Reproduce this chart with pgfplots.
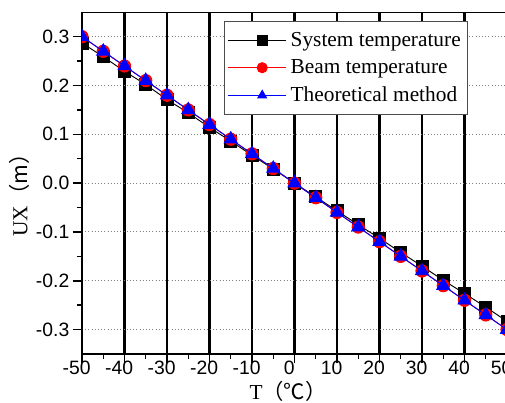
\documentclass[border=0pt]{standalone}
\usepackage{fontspec}
\setmainfont{Liberation Serif}
\newfontfamily\arial{Liberation Sans}
\newfontfamily\cjk{Noto Sans CJK SC}
\usepackage{pgfplots}
\pgfplotsset{compat=1.18}

% values, T in degrees C, UX in m
\pgfplotstableread{
T    sys     beam    theo
-50  0.287   0.300   0.300
-45  0.259   0.270   0.270
-40  0.229   0.240   0.240
-35  0.202   0.210   0.210
-30  0.171   0.180   0.180
-25  0.144   0.150   0.150
-20  0.114   0.120   0.120
-15  0.086   0.090   0.090
-10  0.057   0.060   0.060
-5   0.029   0.030   0.030
0    0.000   0.000   0.000
5   -0.028  -0.030  -0.030
10  -0.057  -0.060  -0.060
15  -0.085  -0.090  -0.090
20  -0.113  -0.120  -0.120
25  -0.142  -0.150  -0.150
30  -0.170  -0.180  -0.180
35  -0.199  -0.210  -0.210
40  -0.226  -0.240  -0.240
45  -0.254  -0.270  -0.270
50  -0.283  -0.300  -0.300
}\datatable

\begin{document}
\begin{tikzpicture}
\begin{axis}[
    scale only axis,
    width=318.75pt, height=256.3pt,
    xmin=-50, xmax=50, ymin=-0.35, ymax=0.35,
    xtick={-50,-40,...,50},
    ytick={-0.3,-0.2,...,0.3},
    minor x tick num=1, minor y tick num=1,
    tick pos=left, tick align=outside,
    major tick length=7pt, minor tick length=3.5pt,
    axis line style={line width=1.1pt},
    every tick/.style={black, line width=1.1pt},
    xmajorgrids, ymajorgrids,
    x grid style={black, line width=1.6pt},
    y grid style={gray, dotted, line width=0.8pt},
    /pgf/number format/assume math mode=true,
    ticklabel style={font=\arial\fontsize{14.5}{16}\selectfont},
    xticklabel style={xshift=-4pt, yshift=5pt},
    yticklabel style={xshift=1pt, /pgf/number format/.cd, fixed, fixed zerofill, precision=1},
    xlabel={T\cjk{（℃）}},
    ylabel={UX\cjk{（m）}},
    label style={font=\fontsize{16}{18}\selectfont},
    xlabel style={at={([yshift=-28pt]rel axis cs:0.485,0)}, anchor=center},
    ylabel style={at={([xshift=-47pt]rel axis cs:0,0.48)}, anchor=center},
    clip marker paths=true,
    legend style={at={(rel axis cs:0.908,0.975)}, anchor=north east,
        draw=black!70, line width=0.8pt, fill=white,
        font=\fontsize{16}{17}\selectfont,
        row sep=4.5pt, inner xsep=2pt, inner ysep=6.2pt,
        nodes={inner xsep=3pt}},
    legend cell align=left,
    legend image code/.code={
        \path (0pt,0pt) -- (8pt,0pt);
        \draw[#1, mark=none] (8pt,0pt) -- (44pt,0pt);
        \draw[#1, only marks, mark size=3.8pt] plot coordinates {(26pt,0pt)};
    },
]
\addplot[black, line width=0.7pt, mark=square*, mark size=4.5pt,
    mark options={solid, fill=black}] table[x=T, y=sys] {\datatable};
\addplot[red, line width=0.7pt, mark=*, mark size=4.6pt,
    mark options={solid, fill=red}] table[x=T, y=beam] {\datatable};
\addplot[blue, line width=0.7pt, mark=triangle*, mark size=5.6pt,
    mark options={solid, fill=blue}] table[x=T, y=theo] {\datatable};
\legend{System temperature, Beam temperature, Theoretical method}
\coordinate (sw) at (rel axis cs:0,0);
\coordinate (ne) at (rel axis cs:1,1);
\end{axis}
\pgfresetboundingbox
\useasboundingbox ([xshift=-61.5pt,yshift=-36.75pt]sw) rectangle ([xshift=-1.5pt,yshift=9.2pt]ne);
\end{tikzpicture}
\end{document}
